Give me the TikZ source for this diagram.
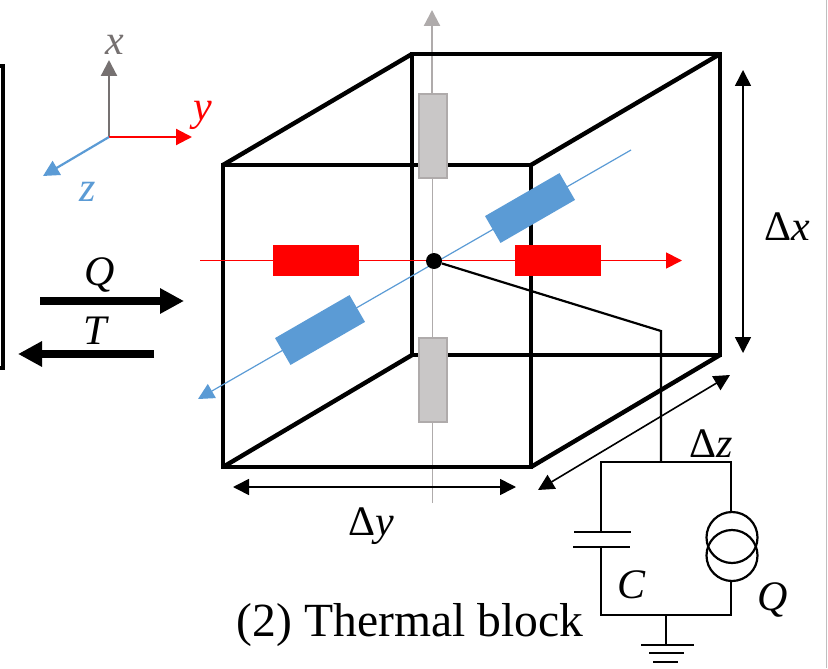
\documentclass[tikz,border=0pt]{standalone}
\usepackage{fontspec}
\setmainfont{Liberation Serif}
\usetikzlibrary{arrows.meta}
\definecolor{axisblue}{HTML}{5B9BD5}
\definecolor{axisgray}{HTML}{767171}
\definecolor{lightaxis}{HTML}{AFABAB}
\definecolor{blockgray}{HTML}{C9C7C7}
\tikzset{
  >=Triangle,
  edge/.style={line width=2.2pt, line join=miter},
  wire/.style={line width=1.1pt},
  dim/.style={<->, line width=0.8pt, >={Triangle[length=8pt,width=8pt]}},
  flow/.style={->, line width=4pt, >={Triangle[length=12pt,width=12pt]}},
  ax/.style={->, line width=1.1pt, >={Triangle[length=8pt,width=8pt]}},
  lbl/.style={font=\fontsize{21}{24}\selectfont, inner sep=0pt},
  redblock/.style={fill=red, inner sep=0pt, minimum width=43pt, minimum height=15.5pt},
  blueblock/.style={fill=axisblue, inner sep=0pt, minimum width=43pt, minimum height=15.5pt, rotate=30},
  grayblock/.style={fill=blockgray, draw=lightaxis, line width=1pt, inner sep=0pt, minimum width=14pt, minimum height=42pt},
  source/.style={circle, draw, line width=1.1pt, inner sep=0pt, minimum size=25.5pt}
}
\begin{document}
\begin{tikzpicture}[x=0.5pt, y=-0.5pt]
    \useasboundingbox (0,0) rectangle (828,668);

    % Cube corners
    \coordinate (f1) at (223,165);
    \coordinate (f2) at (531,165);
    \coordinate (f3) at (531,467);
    \coordinate (f4) at (223,467);
    \coordinate (b1) at (412,54);
    \coordinate (b2) at (720,54);
    \coordinate (b3) at (720,355);
    \coordinate (b4) at (412,355);

    % Block axes
    \coordinate (ybeg) at (200,260.5);
    \coordinate (ymid) at (601,260.5);
    \coordinate (yend) at (682,260.5);
    \coordinate (zbeg) at (631,150);
    \coordinate (zend) at (198,399);
    \coordinate (xbeg) at (432,503);
    \coordinate (xmid) at (432,93);
    \coordinate (xend) at (432,10);

    \draw[lightaxis, line width=0.5pt] (xbeg) -- (xmid);
    \draw[ax, lightaxis] (xmid) -- (xend);

    % Cube edges
    \draw[edge] (f1) -- (f2) -- (f3) -- (f4) -- cycle;
    \draw[edge] (b1) -- (b2) -- (b3) -- (b4) -- cycle;
    \draw[edge] (f1) -- (b1);
    \draw[edge] (f2) -- (b2);
    \draw[edge] (f3) -- (b3);
    \draw[edge] (f4) -- (b4);

    \draw[draw=red, line width=0.6pt] (ybeg) -- (ymid);
    \draw[ax, red, line width=0.9pt] (ymid) -- (yend);
    \draw[->, axisblue, line width=0.6pt, >={Triangle[length=8pt,width=8pt]}] (zbeg) -- (zend);

    % Resistor blocks
    \node[redblock] (ry1) at (316,260.5) {};
    \node[redblock] (ry2) at (558,260.5) {};
    \node[blueblock] (rz1) at (530,208) {};
    \node[blueblock] (rz2) at (320,330) {};
    \node[grayblock] (rx1) at (432.5,136) {};
    \node[grayblock] (rx2) at (432.5,380) {};

    % Centre point and circuit
    \node[circle, fill=black, inner sep=0pt, minimum size=8pt] (mid) at (434,261) {};
    \coordinate (bend) at (661,331);
    \coordinate (top) at (661,462);
    \coordinate (tl) at (601,462);
    \coordinate (tr) at (731,462);
    \coordinate (bl) at (601,615);
    \coordinate (br) at (731,615);
    \coordinate (gnd) at (666,615);
    \coordinate (g1) at (666,645);
    \coordinate (capa) at (601,532);
    \coordinate (capb) at (601,547);
    \node[source] (q1) at (732,537.5) {};
    \node[source] (q2) at (732,555.5) {};

    \draw[wire] (mid) -- (bend) -- (top);
    \draw[wire] (capa) -- (tl) -- (tr) -- (q1.north -| tr);
    \draw[wire] (capb) -- (bl) -- (br) -- (q2.south -| br);
    \draw[wire] (574,532) -- (631,532);
    \draw[wire] (573,547) -- (630,547);
    \draw[wire] (gnd) -- (g1);
    \draw[wire] (641,645) -- (694,645);
    \draw[wire] (649,653) -- (684,653);
    \draw[wire] (653,662) -- (678,662);

    % Dimensions
    \draw[dim] (743,70) -- (743,353);
    \draw[dim] (233,487) -- (516,487);
    \draw[dim] (538,490) -- (730,375);
    \node[lbl] (dx) at (787,227) {Δ\textit{x}};
    \node[lbl] (dy) at (371,526) {Δ\textit{y}};
    \node[lbl] (dz) at (711,444) {Δ\textit{z}};
    \node[lbl] (cc) at (632,585) {\textit{C}};
    \node[lbl] (qq) at (773,600) {\textit{Q}};
    \node[lbl, font=\fontsize{23.8}{26}\selectfont] (title) at (410,625) {(2) Thermal block};

    % Coordinate frame
    \coordinate (o) at (109,137);
    \coordinate (ox) at (109,60);
    \coordinate (oy) at (192,137);
    \coordinate (oz) at (43,176);
    \draw[ax, axisgray] (o) -- (ox);
    \draw[ax, red] (o) -- (oy);
    \draw[ax, axisblue] (o) -- (oz);
    \node[lbl, axisgray] (lx) at (115,45) {\textit{x}};
    \node[lbl, red] (ly) at (203,115) {\textit{y}};
    \node[lbl, axisblue] (lz) at (88,192) {\textit{z}};

    % Left block and exchange arrows
    \draw[edge] (0,66) -- (3,66) -- (3,368) -- (0,368);
    \coordinate (qa) at (40,301);
    \coordinate (qb) at (184,301);
    \coordinate (ta) at (154,354);
    \coordinate (tb) at (18,354);
    \draw[flow] (qa) -- (qb);
    \draw[flow] (ta) -- (tb);
    \node[lbl] (lq) at (100,275) {\textit{Q}};
    \node[lbl] (lt) at (96,331) {\textit{T}};

    % Window edge
    \draw[gray!50, line width=0.5pt] (826,0) -- (826,668);
\end{tikzpicture}
\end{document}
